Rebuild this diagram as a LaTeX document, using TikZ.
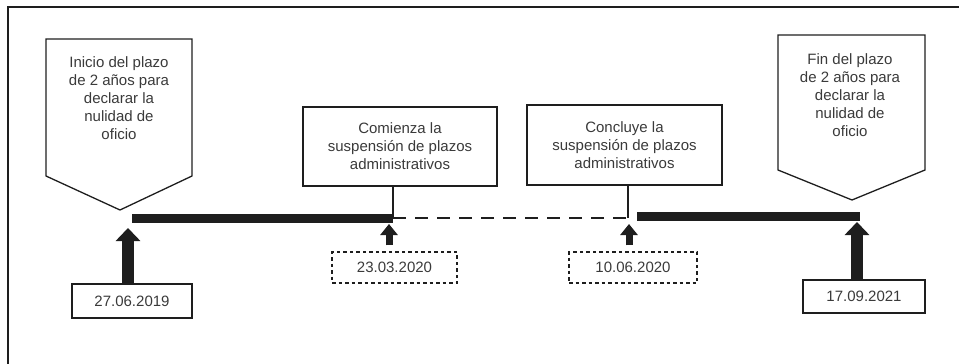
\documentclass[tikz,border=0pt]{standalone}
\usepackage{fontspec}
\setmainfont{Liberation Sans}
\usetikzlibrary{arrows.meta}
\definecolor{ink}{HTML}{1E1E1E}
\definecolor{txt}{HTML}{3A3A3A}
\tikzset{
  lbl/.style={font=\fontsize{15}{18}\selectfont, text=txt, align=center, inner sep=0pt},
  pent/.style={draw=ink, line width=1.3pt, line join=miter},
  evbox/.style={lbl, draw=ink, line width=1.3pt},
  datebox/.style={lbl, draw=ink, line width=1.4pt},
  dashbox/.style={lbl, draw=ink, line width=1.2pt, dash pattern=on 3.5pt off 3pt},
  bar/.style={draw=ink, line width=9pt},
  gap/.style={draw=ink, line width=2.8pt, dash pattern=on 13pt off 9pt},
  tick/.style={draw=ink, line width=1.2pt},
  bigarrow/.style={draw=ink, line width=12pt, -{Triangle[width=24pt,length=13pt]}, shorten <=0.6pt},
  smallarrow/.style={draw=ink, line width=7pt, -{Triangle[width=17pt,length=11pt]}, shorten <=6pt},
}
\begin{document}
\begin{tikzpicture}[x=1pt,y=-1pt]
\useasboundingbox (0,0) rectangle (959,364);
% outer frame (only top and left edges visible)
\draw[ink, line width=1.8pt] (8,364) -- (8,7) -- (959,7);

% left pentagon
\draw[pent] (46,39) -- (192,39) -- (192,176) -- (120,210) -- (46,176) -- cycle;
\node[lbl] (p1) at (119,98.5) {Inicio del plazo\\de 2 años para\\declarar la\\nulidad de\\oficio};

% right pentagon
\draw[pent] (778,35) -- (925,35) -- (925,170) -- (852,200) -- (778,170) -- cycle;
\node[lbl] (p2) at (850,95) {Fin del plazo\\de 2 años para\\declarar la\\nulidad de\\oficio};

% event boxes
\node[evbox, minimum width=194pt, minimum height=79pt] (e1) at (400,146.5) {Comienza la\\suspensión de plazos\\administrativos};
\node[evbox, minimum width=195pt, minimum height=80pt] (e2) at (624.5,145) {Concluye la\\suspensión de plazos\\administrativos};

% timeline
\coordinate (t0) at (132,218);
\coordinate (t1) at (393,218);
\coordinate (t2) at (628,218);
\coordinate (t3) at (637,216);
\coordinate (t4) at (860,216);
\draw[bar] (t0) -- (t1);
\draw[gap] (t1) -- (t2);
\draw[bar] (t3) -- (t4);
\draw[tick] (e1.south -| t1) -- (t1);
\draw[tick] (e2.south -| t2) -- (t2);

% date boxes
\node[datebox, minimum width=120pt, minimum height=34pt] (d1) at (132,301) {27.06.2019};
\node[dashbox, minimum width=125pt, minimum height=31pt] (d2) at (394.5,267.5) {23.03.2020};
\node[dashbox, minimum width=128pt, minimum height=31pt] (d3) at (633,267.5) {10.06.2020};
\node[datebox, minimum width=122pt, minimum height=33pt] (d4) at (864,296.5) {17.09.2021};

% arrows
\coordinate (a1) at (128,228);
\coordinate (a2) at (389,224);
\coordinate (a3) at (629,224);
\coordinate (a4) at (857,222);
\draw[bigarrow] (d1.north -| a1) -- (a1);
\draw[smallarrow] (d2.north -| a2) -- (a2);
\draw[smallarrow] (d3.north -| a3) -- (a3);
\draw[bigarrow] (d4.north -| a4) -- (a4);
\end{tikzpicture}
\end{document}
